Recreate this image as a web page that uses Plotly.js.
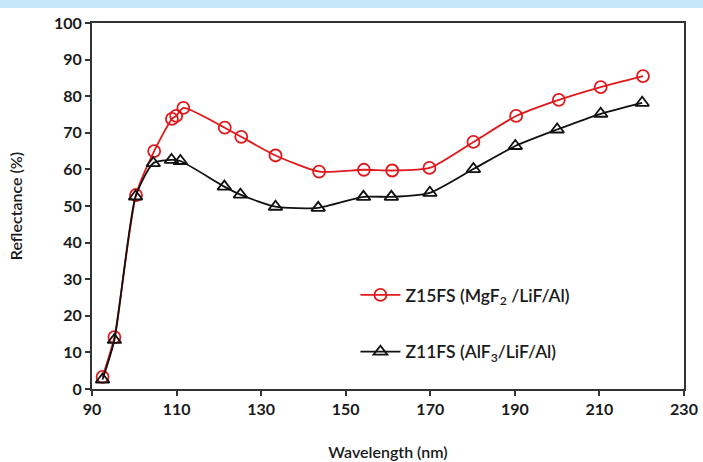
<!DOCTYPE html>
<html>
<head>
<meta charset="utf-8">
<script src="https://cdn.plot.ly/plotly-3.0.1.min.js"></script>
<style>html,body{margin:0;padding:0;background:#fff;}#chart{width:703px;height:462px;}</style>
</head>
<body>
<div id="chart"></div>
<script>
var wlMg = [92.5, 95.3, 100.4, 104.7, 108.9, 109.9, 111.6, 121.4, 125.3, 133.4, 143.7, 154.3, 161.0, 169.8, 180.2, 190.3, 200.4, 210.3, 220.3];
var reflMg = [3.3, 14.2, 53.0, 65.0, 73.8, 74.6, 76.8, 71.4, 68.9, 63.8, 59.4, 59.9, 59.7, 60.4, 67.5, 74.6, 79.0, 82.5, 85.5];
var wlAl = [92.5, 95.3, 100.3, 104.5, 108.8, 110.9, 121.3, 125.1, 133.4, 143.5, 154.2, 160.8, 169.9, 180.2, 190.1, 200.0, 210.3, 220.1];
var reflAl = [2.6, 13.4, 52.6, 61.7, 62.6, 62.3, 55.3, 53.1, 49.8, 49.5, 52.5, 52.5, 53.6, 60.1, 66.4, 70.9, 75.2, 78.2];
var nameMg = 'Z15FS (MgF<sub>2</sub> /LiF/Al)';
var nameAl = 'Z11FS (AlF<sub>3</sub>/LiF/Al)';
var xTicks = [90, 110, 130, 150, 170, 190, 210, 230];
var yTicks = [0, 10, 20, 30, 40, 50, 60, 70, 80, 90, 100];

var font = 'Lato, "Open Sans", sans-serif';
var traces = [
  {x: wlMg, y: reflMg, name: nameMg, type: 'scatter', mode: 'lines+markers', legendgroup: 'a',
   line: {color: '#e0191c', width: 1.8, shape: 'spline', smoothing: 0.6},
   marker: {symbol: 'circle-open', size: 12, color: '#e0191c', line: {width: 1.8, color: '#e0191c'}}},
  {x: wlAl, y: reflAl, name: nameAl, type: 'scatter', mode: 'lines+markers', legendgroup: 'b',
   line: {color: '#111111', width: 1.8, shape: 'spline', smoothing: 0.6},
   marker: {symbol: 'triangle-up-open', size: 12, color: '#111111', line: {width: 1.8, color: '#111111'}}}
];
var axisCommon = {showgrid: false, zeroline: false, showline: true, linecolor: '#333', linewidth: 2,
  mirror: true, ticks: 'outside', ticklen: 5, tickwidth: 2, tickcolor: '#333',
  tickfont: {family: font, size: 16, color: '#1a1a1a', weight: 'bold'}};
var layout = {
  width: 703, height: 462,
  margin: {l: 92, r: 19, t: 23, b: 73},
  paper_bgcolor: '#fff', plot_bgcolor: '#fff',
  showlegend: true,
  legend: {x: 0.445, y: 0.306, xanchor: 'left', yanchor: 'top', traceorder: 'grouped', tracegroupgap: 31,
    itemwidth: 40, bgcolor: 'rgba(0,0,0,0)', font: {family: font, size: 17.5, color: '#1a1a1a', weight: 600}},
  xaxis: Object.assign({}, axisCommon, {range: [90, 230], tickvals: xTicks, ticktext: xTicks.map(String),
    title: {text: 'Wavelength (nm)', font: {family: font, size: 16, color: '#1a1a1a', weight: 600}, standoff: 30}}),
  yaxis: Object.assign({}, axisCommon, {range: [0, 100], tickvals: yTicks, ticktext: yTicks.map(String),
    title: {text: 'Reflectance (%)', font: {family: font, size: 16, color: '#1a1a1a', weight: 600}, standoff: 27}}),
  shapes: [{type: 'rect', xref: 'paper', yref: 'paper', x0: -92/592, x1: 1 + 19/592,
    y0: (366 + 23 - 8) / 366, y1: (366 + 23) / 366, fillcolor: '#c6e7f8', line: {width: 0}, layer: 'below'}]
};
Plotly.newPlot('chart', traces, layout, {displayModeBar: false, staticPlot: true});
</script>
</body>
</html>
